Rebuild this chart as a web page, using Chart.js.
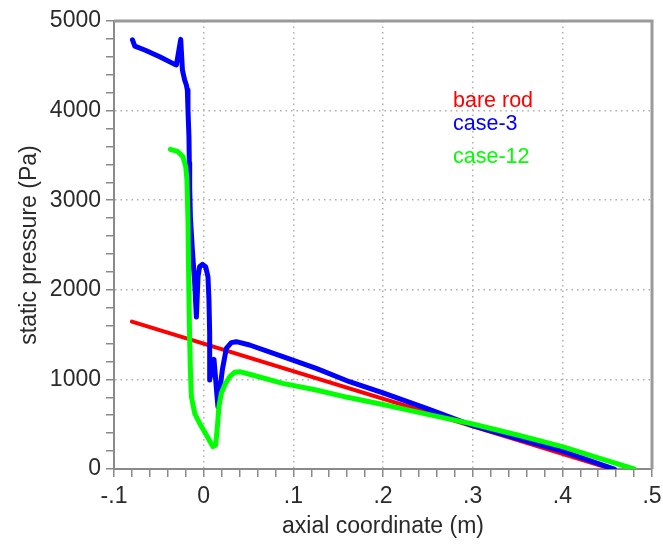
<!DOCTYPE html>
<html>
<head>
<meta charset="utf-8">
<title>static pressure</title>
<script src="https://cdn.jsdelivr.net/npm/chart.js@4.4.1/dist/chart.umd.min.js"></script>
<style>
    html, body { margin: 0; padding: 0; background: #fff; }
    canvas { display: block; }
</style>
</head>
<body>
<canvas id="pressureChart" width="663" height="548"></canvas>
<script>
// data
const bareRodX = [-0.08, 0.455];
const bareRodY = [1645, 0];

const case3X = [-0.0794, -0.0768, -0.0657, -0.049, -0.0323, -0.0304, -0.0256, -0.0237, -0.0212, -0.0193,
    -0.0182, -0.0175, -0.0164, -0.0160, -0.0156, -0.0148, -0.0126, -0.0100, -0.0081, -0.0063,
    -0.0045, -0.0014, 0.0022, 0.0048, 0.0059, 0.0067, 0.0067, 0.0067, 0.0115, 0.0159,
    0.0208, 0.0253, 0.0308, 0.0364, 0.0512, 0.0883, 0.1255, 0.1626, 0.2, 0.25,
    0.3, 0.35, 0.4, 0.458];
const case3Y = [4790, 4720, 4676, 4601, 4516, 4509, 4795, 4453, 4341, 4285,
    4230, 4006, 3705, 3415, 3147, 2812, 2444, 2076, 1696, 2146,
    2258, 2284, 2258, 2146, 1886, 1514, 1216, 993, 1224, 695,
    1105, 1347, 1410, 1421, 1384, 1253, 1123, 974, 850, 670,
    485, 340, 200, 0];

const case12X = [-0.0371, -0.0286, -0.0231, -0.0200, -0.0186, -0.0175, -0.0164, -0.0156, -0.0148, -0.0137,
    -0.0100, -0.0045, 0.0030, 0.0104, 0.0134, 0.0153, 0.0170, 0.0197, 0.0234, 0.0290,
    0.0345, 0.0401, 0.0512, 0.0883, 0.1255, 0.1604, 0.2, 0.25, 0.3, 0.35,
    0.4, 0.44, 0.48];
const case12Y = [3568, 3541, 3485, 3374, 3225, 2779, 1886, 1440, 1105, 807,
    621, 510, 379, 249, 268, 472, 695, 845, 937, 1030,
    1079, 1086, 1057, 956, 882, 800, 720, 610, 502, 380,
    249, 125, 0];

const seriesNames = ['bare rod', 'case-3', 'case-12'];
const seriesColors = ['#ff0000', '#0000ff', '#00ff00'];

const xMin = -0.1, xMax = 0.5, xMinorStep = 0.02;
const yMin = 0, yMax = 5000, yMinorStep = 200;

const FONT = "'Liberation Sans', Arial, sans-serif";

function toPoints(xs, ys) {
    return xs.map((x, i) => ({ x: x, y: ys[i] }));
}

function isMajor(value, unit) {
    const r = value / unit;
    return Math.abs(r - Math.round(r)) < 1e-6;
}

// cadre gris en haut et a droite
const framePlugin = {
    id: 'frame',
    beforeDatasetsDraw(chart) {
        const { ctx, chartArea: a } = chart;
        ctx.save();
        ctx.strokeStyle = '#9a9a9a';
        ctx.lineWidth = 3;
        ctx.beginPath();
        ctx.moveTo(a.left, a.top);
        ctx.lineTo(a.right, a.top);
        ctx.lineTo(a.right, a.bottom);
        ctx.stroke();
        ctx.restore();
    }
};

// legende en texte colore
const labelPlugin = {
    id: 'seriesLabels',
    afterDraw(chart) {
        const { ctx, chartArea: a } = chart;
        const offsets = [86, 109, 142];
        ctx.save();
        ctx.font = '21.5px ' + FONT;
        ctx.textAlign = 'left';
        ctx.textBaseline = 'alphabetic';
        seriesNames.forEach((name, i) => {
            ctx.fillStyle = seriesColors[i];
            ctx.fillText(name, a.left + 339, a.top + offsets[i]);
        });
        ctx.restore();
    }
};

const ctx = document.getElementById('pressureChart').getContext('2d');

const lineStyle = {
    showLine: true,
    pointRadius: 0,
    borderJoinStyle: 'round',
    borderCapStyle: 'round'
};

new Chart(ctx, {
    type: 'scatter',
    data: {
        datasets: [
            Object.assign({
                label: seriesNames[0],
                data: toPoints(bareRodX, bareRodY),
                borderColor: seriesColors[0],
                backgroundColor: seriesColors[0],
                borderWidth: 4,
                order: 3
            }, lineStyle),
            Object.assign({
                label: seriesNames[1],
                data: toPoints(case3X, case3Y),
                borderColor: seriesColors[1],
                backgroundColor: seriesColors[1],
                borderWidth: 5,
                order: 2
            }, lineStyle),
            Object.assign({
                label: seriesNames[2],
                data: toPoints(case12X, case12Y),
                borderColor: seriesColors[2],
                backgroundColor: seriesColors[2],
                borderWidth: 5,
                order: 1
            }, lineStyle)
        ]
    },
    options: {
        responsive: false,
        animation: false,
        layout: {
            padding: { top: 21, right: 11, left: 0, bottom: 0 }
        },
        plugins: {
            legend: { display: false },
            tooltip: { enabled: false }
        },
        scales: {
            x: {
                type: 'linear',
                min: xMin,
                max: xMax,
                afterFit: function(scale) { scale.height = 79; },
                ticks: {
                    stepSize: xMinorStep,
                    autoSkip: false,
                    maxRotation: 0,
                    padding: 1,
                    color: '#2a2a2a',
                    font: { family: FONT, size: 23, lineHeight: 1.62 },
                    callback: function(value) {
                        if (!isMajor(value, 0.1)) return '';
                        const v = Math.round(value * 10) / 10;
                        if (v === 0) return '0';
                        return String(v).replace('0.', '.');
                    }
                },
                grid: {
                    color: function(c) {
                        return c.tick && isMajor(c.tick.value, 0.1) ? '#b0b0b0' : 'rgba(0,0,0,0)';
                    },
                    lineWidth: 1.5,
                    tickLength: 8,
                    tickColor: '#8a8a8a',
                    tickWidth: 1.5
                },
                border: { display: true, color: '#8a8a8a', width: 2, dash: [1.5, 4] },
                title: {
                    display: true,
                    text: 'axial coordinate (m)',
                    color: '#2a2a2a',
                    font: { family: FONT, size: 23 },
                    padding: { top: 0, bottom: 8 }
                }
            },
            y: {
                type: 'linear',
                min: yMin,
                max: yMax,
                afterFit: function(scale) { scale.width = 114; },
                ticks: {
                    stepSize: yMinorStep,
                    autoSkip: false,
                    padding: 5,
                    color: '#2a2a2a',
                    font: { family: FONT, size: 23 },
                    callback: function(value) {
                        return isMajor(value, 1000) ? String(Math.round(value)) : '';
                    }
                },
                grid: {
                    color: function(c) {
                        return c.tick && isMajor(c.tick.value, 1000) ? '#b0b0b0' : 'rgba(0,0,0,0)';
                    },
                    lineWidth: 1.5,
                    tickLength: 8,
                    tickColor: '#8a8a8a',
                    tickWidth: 1.5
                },
                border: { display: true, color: '#8a8a8a', width: 2, dash: [1.5, 4] },
                title: {
                    display: true,
                    text: 'static pressure (Pa)',
                    color: '#2a2a2a',
                    font: { family: FONT, size: 23 },
                    padding: { top: 16, bottom: 0 }
                }
            }
        }
    },
    plugins: [framePlugin, labelPlugin]
});
</script>
</body>
</html>
